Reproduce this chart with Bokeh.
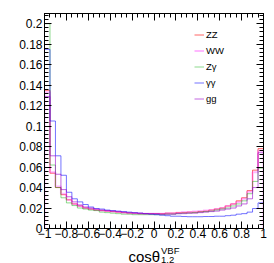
from bokeh.plotting import figure
from bokeh.layouts import column
from bokeh.models import Range1d, FixedTicker, LinearAxis, Label, Legend, LegendItem
from bokeh.embed import file_html
from bokeh.resources import INLINE

# ---- data (normalised histograms, 40 bins from -1 to 1) ----
n_bins = 40
x_lo, x_hi = -1.0, 1.0
bin_edges = [round(x_lo + (x_hi - x_lo) * i / n_bins, 3) for i in range(n_bins + 1)]

zz = [0.135, 0.054, 0.040, 0.033, 0.028, 0.024, 0.022, 0.020, 0.019, 0.018,
      0.0175, 0.017, 0.0165, 0.016, 0.0155, 0.015, 0.015, 0.0145, 0.0145, 0.0145,
      0.0145, 0.0145, 0.015, 0.015, 0.0155, 0.0155, 0.016, 0.016, 0.0165, 0.017,
      0.018, 0.019, 0.020, 0.022, 0.024, 0.027, 0.030, 0.037, 0.057, 0.078]
ww = [0.133, 0.055, 0.041, 0.034, 0.028, 0.024, 0.022, 0.020, 0.019, 0.018,
      0.0175, 0.017, 0.0165, 0.016, 0.0155, 0.015, 0.015, 0.0145, 0.0145, 0.0145,
      0.0145, 0.0145, 0.015, 0.015, 0.0155, 0.016, 0.016, 0.0165, 0.017, 0.0175,
      0.018, 0.019, 0.020, 0.022, 0.024, 0.026, 0.029, 0.036, 0.055, 0.076]
zgam = [0.200, 0.062, 0.040, 0.030, 0.025, 0.0224, 0.020, 0.019, 0.018, 0.0175,
        0.016, 0.0155, 0.015, 0.0145, 0.014, 0.014, 0.0135, 0.0135, 0.0135, 0.0135,
        0.0135, 0.0135, 0.014, 0.014, 0.0145, 0.015, 0.015, 0.0155, 0.016, 0.0165,
        0.017, 0.018, 0.019, 0.020, 0.022, 0.024, 0.027, 0.034, 0.046, 0.059]
gamgam = [0.175, 0.105, 0.071, 0.052, 0.0354, 0.029, 0.026, 0.0234, 0.021, 0.0195,
          0.019, 0.018, 0.0175, 0.017, 0.0165, 0.016, 0.0155, 0.015, 0.0145, 0.014,
          0.0135, 0.013, 0.0125, 0.012, 0.012, 0.0117, 0.0115, 0.0115, 0.0115, 0.0117,
          0.0117, 0.012, 0.012, 0.0125, 0.013, 0.014, 0.0145, 0.016, 0.0195, 0.025]
gg = [0.129, 0.071, 0.053, 0.038, 0.031, 0.026, 0.023, 0.021, 0.020, 0.019,
      0.018, 0.0175, 0.017, 0.0165, 0.016, 0.0155, 0.015, 0.015, 0.0145, 0.0145,
      0.0145, 0.014, 0.014, 0.014, 0.0145, 0.0145, 0.015, 0.015, 0.0155, 0.016,
      0.0165, 0.017, 0.018, 0.019, 0.020, 0.022, 0.024, 0.029, 0.040, 0.074]

series_names = ["ZZ", "WW", "Zγ", "γγ", "gg"]
series_values = [zz, ww, zgam, gamgam, gg]

x_ticks = [-1, -0.8, -0.6, -0.4, -0.2, 0, 0.2, 0.4, 0.6, 0.8, 1]
x_tick_labels = ["\u22121", "\u22120.8", "\u22120.6", "\u22120.4", "\u22120.2", "0",
                 "0.2", "0.4", "0.6", "0.8", "1"]
x_minor = [round(-1 + 0.05 * i, 3) for i in range(41)]
y_ticks = [0, 0.02, 0.04, 0.06, 0.08, 0.1, 0.12, 0.14, 0.16, 0.18, 0.2]
y_tick_labels = ["0", "0.02", "0.04", "0.06", "0.08", "0.1", "0.12", "0.14", "0.16", "0.18", "0.2"]
y_minor = [round(0.004 * i, 4) for i in range(53)]

x_title = "cosθ"
x_title_sup = "VBF"
x_title_sub = "1,2"

# ---- styles ----
styles = [
    dict(color="#ff0000", alpha=0.6, width=1),
    dict(color="#ff33ff", alpha=0.35, width=2),
    dict(color="#00aa00", alpha=0.45, width=1),
    dict(color="#0000ff", alpha=0.55, width=1),
    dict(color="#9900cc", alpha=0.6, width=1),
]
FONT = "Liberation Sans"

p = figure(width=274, height=242, x_range=Range1d(x_lo, x_hi), y_range=Range1d(0, 0.21),
           output_backend="svg", toolbar_location=None,
           min_border_left=44, min_border_right=11, min_border_top=13, min_border_bottom=14)
p.xgrid.visible = False
p.ygrid.visible = False
p.outline_line_color = "black"
p.background_fill_color = "white"
p.border_fill_color = "white"


def style_axis(ax, ticks, minor, labels, show_labels, standoff=2):
    ax.ticker = FixedTicker(ticks=ticks, minor_ticks=minor)
    ax.axis_line_color = "black"
    ax.major_tick_line_color = "black"
    ax.minor_tick_line_color = "black"
    ax.major_tick_in = 7
    ax.major_tick_out = 0
    ax.minor_tick_in = 4
    ax.minor_tick_out = 0
    if show_labels:
        ax.major_label_overrides = {t: l for t, l in zip(ticks, labels)}
        ax.major_label_text_font = FONT
        ax.major_label_text_font_size = "12px"
        ax.major_label_text_color = "black"
        ax.major_label_standoff = standoff
    else:
        ax.major_label_overrides = {t: "" for t in ticks}
        ax.major_label_text_font_size = "0px"
        ax.major_label_standoff = 0


style_axis(p.xaxis[0], x_ticks, x_minor, x_tick_labels, True, standoff=0)
style_axis(p.yaxis[0], y_ticks, y_minor, y_tick_labels, True, standoff=2)
top_ax = LinearAxis()
style_axis(top_ax, x_ticks, x_minor, x_tick_labels, False)
p.add_layout(top_ax, "above")
right_ax = LinearAxis()
style_axis(right_ax, y_ticks, y_minor, y_tick_labels, False)
p.add_layout(right_ax, "right")

items = []
for name, vals, st in zip(series_names, series_values, styles):
    xs = [bin_edges[0]]
    ys = [0.0]
    for i, v in enumerate(vals):
        xs += [bin_edges[i], bin_edges[i + 1]]
        ys += [v, v]
    xs.append(bin_edges[-1])
    ys.append(0.0)
    r = p.line(xs, ys, line_color=st["color"], line_alpha=st["alpha"], line_width=st["width"])
    items.append(LegendItem(label=name, renderers=[r]))

legend = Legend(items=items, location=(150, 122))
legend.background_fill_alpha = 0
legend.border_line_color = None
legend.padding = 0
legend.margin = 0
legend.spacing = 1
legend.glyph_width = 10
legend.glyph_height = 15
legend.label_height = 15
legend.label_standoff = 2
legend.label_text_font = FONT
legend.label_text_font_size = "9.5px"
legend.label_text_color = "black"
p.add_layout(legend, "center")

# ---- axis title strip below the plot: cosθ^{VBF}_{1,2} ----
# (its frame is aligned with the main plot's frame by the column layout)
t = figure(width=274, height=21, x_range=Range1d(x_lo, x_hi), y_range=Range1d(0, 21),
           output_backend="svg", toolbar_location=None, title=None,
           x_axis_type=None, y_axis_type=None,
           min_border_left=44, min_border_right=11, min_border_top=0, min_border_bottom=0)
t.xgrid.visible = False
t.ygrid.visible = False
t.outline_line_color = None
t.background_fill_color = "white"
t.border_fill_color = "white"
t.add_layout(Label(x=-0.233, y=7, text=x_title, text_font=FONT, text_font_size="15px",
                   text_color="black", text_baseline="alphabetic", text_align="left"))
t.add_layout(Label(x=0.064, y=13, text=x_title_sup, text_font=FONT, text_font_size="9.5px",
                   text_color="black", text_baseline="alphabetic", text_align="left"))
t.add_layout(Label(x=0.064, y=3.5, text=x_title_sub, text_font=FONT, text_font_size="9.5px",
                   text_color="black", text_baseline="alphabetic", text_align="left"))

layout = column(p, t, spacing=0)
open("out.html", "w").write(file_html(layout, INLINE))
